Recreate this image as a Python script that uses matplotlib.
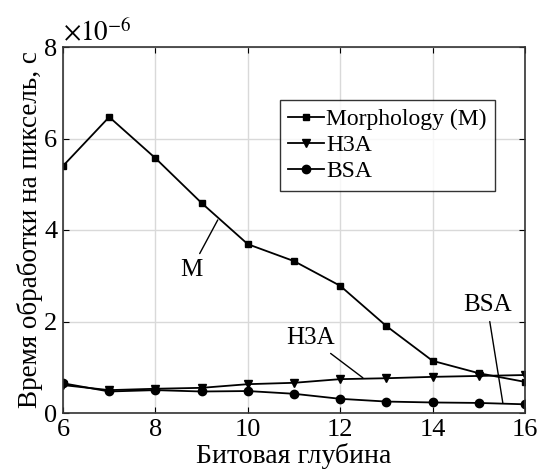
import matplotlib
matplotlib.use("Agg")
import matplotlib.pyplot as plt

# шрифты как в исходнике (Times-подобный)
matplotlib.rcParams['font.family'] = ['Liberation Serif', 'DejaVu Serif']
matplotlib.rcParams['mathtext.fontset'] = 'stix'

# данные (время в единицах 1e-6 с)
bit_depth = [6, 7, 8, 9, 10, 11, 12, 13, 14, 15, 16]
morphology = [5.40, 6.47, 5.57, 4.59, 3.69, 3.32, 2.78, 1.90, 1.14, 0.87, 0.68]
h3a = [0.61, 0.50, 0.53, 0.55, 0.63, 0.66, 0.74, 0.76, 0.79, 0.81, 0.83]
bsa = [0.65, 0.47, 0.50, 0.47, 0.48, 0.42, 0.31, 0.25, 0.23, 0.22, 0.19]

fig = plt.figure(figsize=(5.39, 4.72), dpi=100)
ax = fig.add_axes([63 / 539, 1 - 413 / 472, 462 / 539, 366 / 472])

lw = 1.3
ax.plot(bit_depth, morphology, color='black', lw=lw, marker='s', ms=5, label='Morphology (M)')
ax.plot(bit_depth, h3a, color='black', lw=lw, marker='v', ms=6, label='H3A')
ax.plot(bit_depth, bsa, color='black', lw=lw, marker='o', ms=6, label='BSA')

ax.set_xlim(6, 16)
ax.set_ylim(0, 8)
ax.set_xticks([6, 8, 10, 12, 14, 16])
ax.set_yticks([0, 2, 4, 6, 8])
ax.grid(True, color='#d9d9d9', lw=1)
ax.tick_params(direction='in', top=True, right=True, labelsize=19, length=4, pad=4)
for sp in ax.spines.values():
    sp.set_linewidth(1.2)
    sp.set_color('#333333')

ax.set_xlabel('Битовая глубина', fontsize=20, labelpad=2)
ax.set_ylabel('Время обработки на пиксель, с', fontsize=19.5, labelpad=1)
ax.text(0.0, 1.0, r'$\times10^{-6}$', transform=ax.transAxes, fontsize=19.5,
        ha='left', va='bottom')

leg = ax.legend(loc='upper right', bbox_to_anchor=(0.935, 0.855), fontsize=17,
                handlelength=1.5, handletextpad=0.1, borderpad=0.35, labelspacing=0.2,
                borderaxespad=0, frameon=True, fancybox=False, edgecolor='black')
leg.get_frame().set_linewidth(1.0)

# подписи кривых
arrow = dict(arrowstyle='-', color='black', lw=1, shrinkA=2, shrinkB=0)
ax.annotate('M', xy=(9.35, 4.22), xytext=(8.77, 3.13), fontsize=18, ha='center', va='center',
            arrowprops=arrow)
ax.annotate('H3A', xy=(12.49, 0.77), xytext=(11.35, 1.64), fontsize=18, ha='center', va='center',
            arrowprops=arrow)
ax.annotate('BSA', xy=(15.52, 0.22), xytext=(15.18, 2.36), fontsize=18, ha='center', va='center',
            arrowprops=arrow)

fig.savefig('out.png', dpi=100)
